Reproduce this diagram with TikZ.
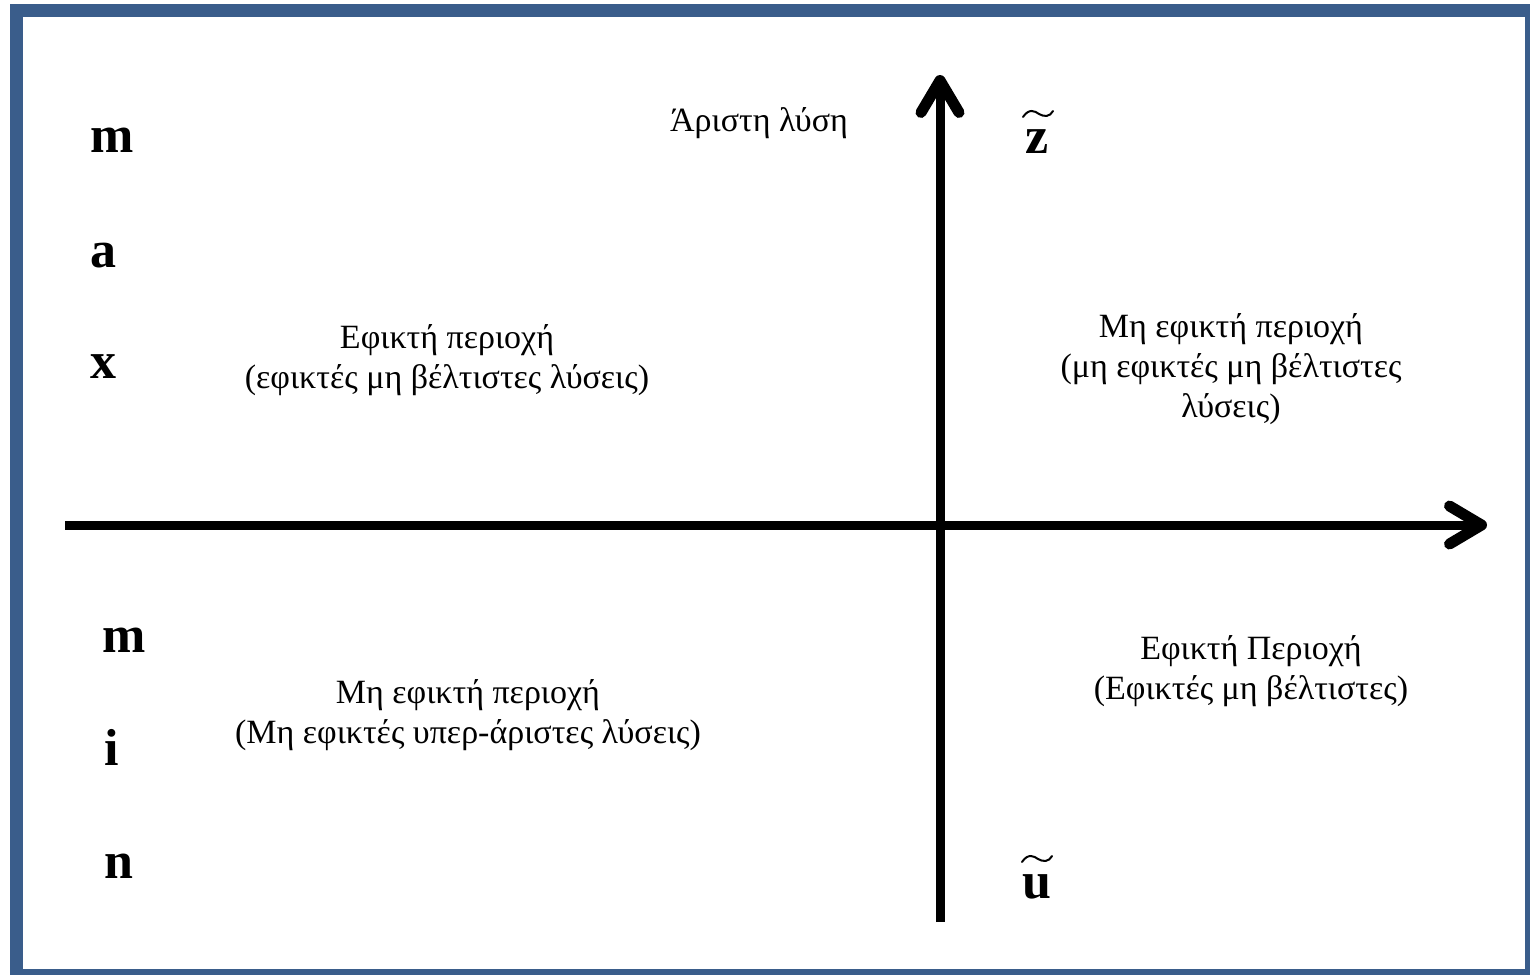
\documentclass[tikz,border=0pt]{standalone}
\usepackage{fontspec}
\setmainfont{Liberation Serif}
\usetikzlibrary{arrows.meta}
\definecolor{frame}{HTML}{3A5D8B}
\tikzset{
  axis/.style={line width=9pt, line cap=butt, -{Straight Barb[length=32pt,width=38pt,line width=11pt,round]}},
  region/.style={font=\fontsize{34}{40}\selectfont, align=center, inner sep=0pt},
  letter/.style={font=\fontsize{52}{52}\selectfont\bfseries, anchor=base, inner sep=0pt},
  tildestroke/.style={line width=2pt, line cap=round}
}
\begin{document}
\begin{tikzpicture}[x=1pt,y=-1pt]
\useasboundingbox (0,0) rectangle (1530,974);
\clip (0,0) rectangle (1530,974);
\fill[white] (0,0) rectangle (1530,974);
\draw[frame, line width=13pt] (16.5,11) rectangle (1531,975);

% axes
\coordinate (xl) at (65,525);
\coordinate (xr) at (1487,525);
\coordinate (yb) at (940,922);
\coordinate (yt) at (940,75);
\draw[axis] (xl) -- (xr);
\draw[axis] (yb) -- (yt);

% side letters
\node[letter] (m1) at (112,152) {m};
\node[letter] (a1) at (103,267) {a};
\node[letter] (x1) at (103,378) {x};
\node[letter] (m2) at (124,652) {m};
\node[letter] (i2) at (112,765) {i};
\node[letter] (n2) at (119,878) {n};

% z tilde and u tilde
\node[letter] (zt) at (1037,153) {z};
\draw[tildestroke] (1023,117) .. controls (1029,108) and (1035,111) .. (1039,114) .. controls (1044,117) and (1050,117) .. (1053,111);
\node[letter] (ut) at (1037,898) {u};
\draw[tildestroke] (1022,862) .. controls (1028,853) and (1034,856) .. (1038,859) .. controls (1043,862) and (1049,862) .. (1052,856);

% region texts
\node[region] (best) at (759,123) {Άριστη λύση};
\node[region] (q2) at (447,360) {Εφικτή περιοχή\\(εφικτές μη βέλτιστες λύσεις)};
\node[region] (q1) at (1231,369) {Μη εφικτή περιοχή\\(μη εφικτές μη βέλτιστες\\λύσεις)};
\node[region] (q3) at (468,715) {Μη εφικτή περιοχή\\(Μη εφικτές υπερ-άριστες λύσεις)};
\node[region] (q4) at (1251,671) {Εφικτή Περιοχή\\(Εφικτές μη βέλτιστες)};
\end{tikzpicture}
\end{document}
